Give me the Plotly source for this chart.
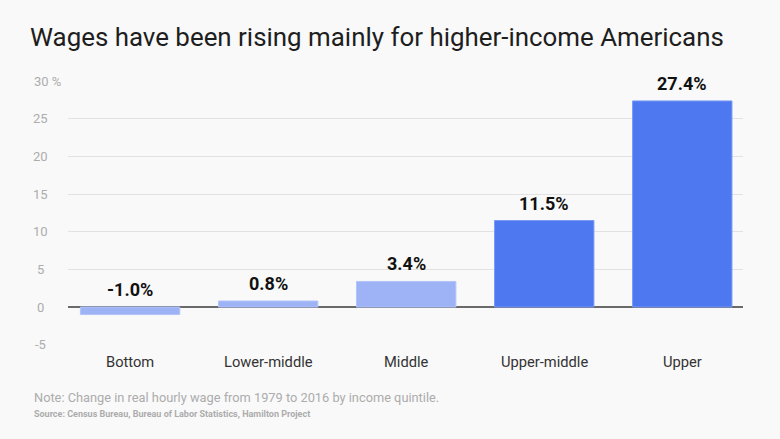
import plotly.graph_objects as go

categories = ["Bottom", "Lower-middle", "Middle", "Upper-middle", "Upper"]
values = [-1.0, 0.8, 3.4, 11.5, 27.4]
value_labels = ["-1.0%", "0.8%", "3.4%", "11.5%", "27.4%"]
tick_vals = [-5, 0, 5, 10, 15, 20, 25, 30]
tick_labels = ["-5", "0", "5", "10", "15", "20", "25", "30 %"]

LIGHT = "#9db3f5"
DARK = "#4e78f0"
BG = "#f9f9f9"
colors = [LIGHT, LIGHT, LIGHT, DARK, DARK]
line_colors = ["#b3c4f8", "#b3c4f8", "#b3c4f8", "#7a9af4", "#7a9af4"]

L, R, T, B = 68, 37, 81, 94
W, H = 780, 439
pw = W - L - R
ph = H - T - B


def px_x(x):
    return (x - L) / pw


def px_y(y):
    return (H - y - B) / ph


fig = go.Figure()
fig.add_trace(go.Bar(
    x=list(range(len(categories))), y=values,
    marker=dict(color=colors, line=dict(color=line_colors, width=1)),
    width=0.72, hoverinfo="skip",
))

annotations = []
for i, (v, t) in enumerate(zip(values, value_labels)):
    annotations.append(dict(x=i, y=max(v, 0), xref="x", yref="y", text=t,
                            showarrow=False, yanchor="bottom", yshift=5,
                            font=dict(family="Roboto", size=18, color="#111111", weight=700)))
for i, c in enumerate(categories):
    annotations.append(dict(x=i, y=0, xref="x", yref="paper", text=c,
                            showarrow=False, yanchor="middle", yshift=-17,
                            font=dict(family="Roboto", size=14.7, color="#333333")))
for tv, tl in zip(tick_vals, tick_labels):
    if tl.endswith("%"):
        annotations.append(dict(x=px_x(32), y=tv, xref="paper", yref="y", text=tl,
                                showarrow=False, xanchor="left", yanchor="middle",
                                font=dict(family="Roboto", size=13, color="#adadad")))
    else:
        annotations.append(dict(x=px_x(40), y=tv, xref="paper", yref="y", text=tl,
                                showarrow=False, xanchor="center", yanchor="middle",
                                font=dict(family="Roboto", size=13, color="#adadad")))

annotations.append(dict(x=px_x(28), y=px_y(37), xref="paper", yref="paper",
                        text="Wages have been rising mainly for higher-income Americans",
                        showarrow=False, xanchor="left", yanchor="middle",
                        font=dict(family="Roboto", size=25.9, color="#1e1e1e", weight=400)))
annotations.append(dict(x=px_x(32), y=px_y(397), xref="paper", yref="paper",
                        text="Note: Change in real hourly wage from 1979 to 2016 by income quintile.",
                        showarrow=False, xanchor="left", yanchor="middle",
                        font=dict(family="Roboto", size=12.8, color="#acacac")))
annotations.append(dict(x=px_x(32), y=px_y(414), xref="paper", yref="paper",
                        text="Source: Census Bureau, Bureau of Labor Statistics, Hamilton Project",
                        showarrow=False, xanchor="left", yanchor="middle",
                        font=dict(family="Roboto", size=9, color="#acacac", weight=700)))

fig.update_layout(
    width=W, height=H,
    margin=dict(l=L, r=R, t=T, b=B, pad=0),
    paper_bgcolor=BG, plot_bgcolor=BG,
    showlegend=False,
    xaxis=dict(range=[-0.45, 4.44], showticklabels=False, showgrid=False,
               zeroline=False, showline=False, fixedrange=True),
    yaxis=dict(range=[-5.05, 30.05], tickvals=tick_vals, showticklabels=False,
               showgrid=True, gridcolor="#e2e2e2", gridwidth=1,
               zeroline=True, zerolinecolor="#6a6a6a", zerolinewidth=1.5,
               showline=False, fixedrange=True),
    annotations=annotations,
)

fig.write_html("out.html", config={"displayModeBar": False},
               post_script="document.body.style.margin='0';document.body.style.background='%s';" % BG)
